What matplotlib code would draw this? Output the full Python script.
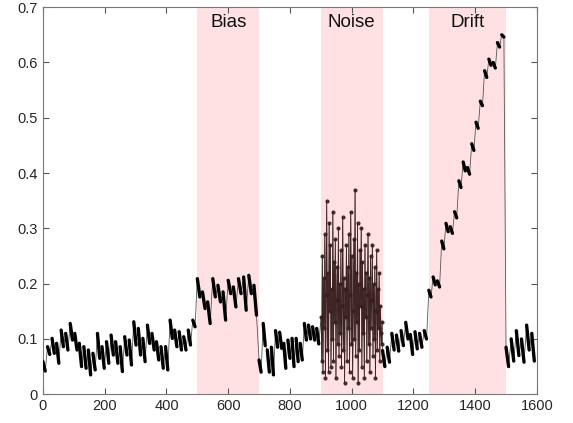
import matplotlib.pyplot as plt
import numpy as np

# sawtooth segments: value at start (top) and end (bottom) of each short drop
base1_top = [0.059, 0.086, 0.101, 0.092, 0.116, 0.110, 0.128, 0.110, 0.092, 0.086,
             0.080, 0.074, 0.110, 0.086, 0.095, 0.107, 0.095, 0.086, 0.104, 0.098,
             0.131, 0.119, 0.101, 0.125, 0.110, 0.095, 0.086, 0.086, 0.134, 0.116,
             0.113, 0.104, 0.116, 0.134]
base1_bot = [0.042, 0.072, 0.074, 0.056, 0.086, 0.080, 0.098, 0.080, 0.050, 0.047,
             0.035, 0.044, 0.065, 0.047, 0.056, 0.071, 0.056, 0.041, 0.071, 0.053,
             0.089, 0.071, 0.059, 0.092, 0.080, 0.062, 0.047, 0.044, 0.101, 0.086,
             0.080, 0.080, 0.089, 0.122]

bias_top = [0.209, 0.185, 0.167, 0.209, 0.197, 0.185, 0.206, 0.194, 0.209, 0.212, 0.215, 0.197]
bias_bot = [0.176, 0.155, 0.128, 0.176, 0.167, 0.134, 0.182, 0.158, 0.182, 0.152, 0.182, 0.143]

base2_top = [0.062, 0.128, 0.080, 0.085, 0.115, 0.112, 0.092, 0.098, 0.101, 0.101,
             0.092, 0.128, 0.125, 0.122, 0.119]
base2_bot = [0.040, 0.088, 0.040, 0.035, 0.085, 0.083, 0.047, 0.065, 0.050, 0.059,
             0.062, 0.098, 0.100, 0.098, 0.091]

noise_vals = [0.14, 0.06, 0.25, 0.04, 0.21, 0.12, 0.29, 0.03, 0.18, 0.35,
              0.08, 0.22, 0.04, 0.31, 0.15, 0.27, 0.05, 0.19, 0.10, 0.33,
              0.06, 0.24, 0.13, 0.28, 0.03, 0.17, 0.23, 0.09, 0.30, 0.07,
              0.20, 0.11, 0.26, 0.05, 0.16, 0.32, 0.08, 0.21, 0.02, 0.19,
              0.14, 0.27, 0.06, 0.23, 0.12, 0.29, 0.04, 0.18, 0.33, 0.09,
              0.25, 0.03, 0.15, 0.28, 0.10, 0.37, 0.07, 0.22, 0.13, 0.31,
              0.02, 0.20, 0.08, 0.26, 0.16, 0.30, 0.05, 0.24, 0.11, 0.19,
              0.03, 0.27, 0.14, 0.22, 0.06, 0.18, 0.29, 0.09, 0.21, 0.04,
              0.25, 0.12, 0.17, 0.27, 0.07, 0.20, 0.10, 0.23, 0.03, 0.15,
              0.26, 0.08, 0.19, 0.12, 0.22, 0.06, 0.16, 0.11, 0.09, 0.13]

base3_top = [0.079, 0.085, 0.110, 0.107, 0.115, 0.130, 0.108, 0.113, 0.110, 0.115]
base3_bot = [0.050, 0.058, 0.080, 0.078, 0.088, 0.100, 0.072, 0.082, 0.085, 0.100]

drift_top = [0.188, 0.212, 0.205, 0.277, 0.309, 0.303, 0.330, 0.386, 0.420, 0.410,
             0.453, 0.492, 0.530, 0.585, 0.606, 0.600, 0.636, 0.650]
drift_bot = [0.176, 0.198, 0.194, 0.263, 0.294, 0.291, 0.319, 0.374, 0.404, 0.398,
             0.441, 0.481, 0.522, 0.573, 0.595, 0.590, 0.628, 0.646]

base4_top = [0.085, 0.100, 0.115, 0.100, 0.125, 0.110]
base4_bot = [0.050, 0.060, 0.070, 0.058, 0.080, 0.060]

regions = [('Bias', 500, 700), ('Noise', 900, 1100), ('Drift', 1250, 1500)]


def saw(a, b, tops, bots):
    n = len(tops)
    step = (b - a) / n
    xs, ys = [], []
    for i in range(n):
        xs += [a + i * step, a + i * step + 0.5 * step]
        ys += [tops[i], bots[i]]
    return np.array(xs), np.array(ys)


parts = [saw(0, 500, base1_top, base1_bot),
         saw(500, 700, bias_top, bias_bot),
         saw(700, 900, base2_top, base2_bot)]
noise_x = np.linspace(900, 1100, len(noise_vals), endpoint=False) + 1
parts.append((noise_x, np.array(noise_vals)))
parts += [saw(1100, 1250, base3_top, base3_bot),
          saw(1250, 1500, drift_top, drift_bot),
          saw(1500, 1600, base4_top, base4_bot)]

x_all = np.concatenate([p[0] for p in parts])
y_all = np.concatenate([p[1] for p in parts])

plt.rcParams['font.family'] = ['Liberation Sans', 'DejaVu Sans']
fig = plt.figure(figsize=(5.73, 4.23), dpi=100)
ax = fig.add_axes([0.075, 0.068, 0.862, 0.915])

for name, a, b in regions:
    ax.axvspan(a, b, color='#ffe1e4', lw=0, zorder=0)
    ax.text((a + b) / 2, 0.673, name, ha='center', va='center', fontsize=13.5, color='#111111')

ax.plot(x_all, y_all, color='#555555', lw=0.6, zorder=2)
for i, p in enumerate(parts):
    if i == 3:
        ax.plot(p[0], p[1], '-o', color='#3a1c1c', lw=0.6, ms=2.0, alpha=0.85, zorder=3)
        continue
    for k in range(0, len(p[0]), 2):
        ax.plot(p[0][k:k + 2], p[1][k:k + 2], color='black', lw=2.4,
                solid_capstyle='round', zorder=3)

ax.set_xlim(0, 1600)
ax.set_ylim(0, 0.7)
ax.set_xticks(np.arange(0, 1601, 200))
ax.set_yticks(np.arange(0, 0.71, 0.1))
ax.set_yticklabels(['0', '0.1', '0.2', '0.3', '0.4', '0.5', '0.6', '0.7'])
ax.tick_params(direction='in', top=True, right=True, length=4, width=0.8,
               color='#555555', labelsize=10.5, labelcolor='#262626')
for s in ax.spines.values():
    s.set_color('#777777')
    s.set_linewidth(0.8)

fig.savefig('out.png', dpi=100)
